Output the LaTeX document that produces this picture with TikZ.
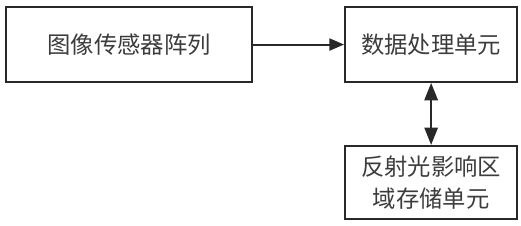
\documentclass[tikz,border=0pt]{standalone}
\usepackage{fontspec}
\setmainfont{Noto Sans CJK SC}
\usepackage{xcolor}
\definecolor{BoxLine}{RGB}{40,40,40}
\definecolor{BoxText}{RGB}{60,60,60}
\usetikzlibrary{arrows.meta,positioning}

\begin{document}
\begin{tikzpicture}[
    font=\fontsize{17.5pt}{24pt}\selectfont,
    box/.style={draw=BoxLine,line width=1.6pt,text=BoxText,minimum height=56pt,align=center,inner sep=0pt},
    arr/.style={-{Triangle[length=11pt,width=9pt]},line width=1.5pt,BoxLine},
    darr/.style={{Triangle[length=13pt,width=10pt]}-{Triangle[length=13pt,width=10pt]},line width=1.5pt,BoxLine},
  ]
    \useasboundingbox (0,0) rectangle (390.75pt,-168.75pt);
    \node[box,minimum width=184.5pt] (sensor) at (96.75pt,-33.4pt) {图像传感器阵列};
    \node[box,minimum width=129pt,right=68.25pt of sensor] (proc) {数据处理单元};
    \node[box,minimum width=129pt,minimum height=54.75pt,below=46.5pt of proc] (store) {反射光影响区\\域存储单元};
    \draw[arr] (sensor) -- (proc);
    \draw[darr] (proc) -- (store);
  \end{tikzpicture}
\end{document}
